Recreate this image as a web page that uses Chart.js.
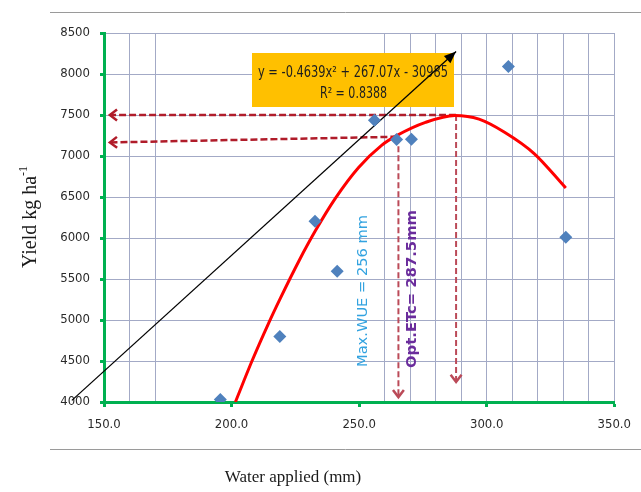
<!DOCTYPE html>
<html>
<head>
<meta charset="utf-8">
<script src="https://cdn.jsdelivr.net/npm/chart.js@4.4.1/dist/chart.umd.min.js"></script>
<style>
    html, body { margin: 0; padding: 0; background: #fff; }
</style>
</head>
<body>
<canvas id="yieldCanvas" width="641" height="492"></canvas>
<script>
// observed yields
const waterApplied = [195.6, 218.9, 232.7, 241.4, 256.0, 264.7, 270.5, 308.5, 331.0];
const yieldValues  = [4030, 4800, 6205, 5595, 7435, 7200, 7205, 8090, 6010];

// fitted curve
const curveWater = [201.5, 208.0, 214.5, 219.2, 226.4, 232.9, 240.6, 249.8, 258.8, 264.5, 276.0, 287.5, 297.0, 307.0, 318.6, 331.0];
const curveYield = [4000, 4500, 4960, 5270, 5720, 6090, 6480, 6860, 7130, 7245, 7410, 7495, 7450, 7290, 7030, 6610];

// black arrow
const trendWater = [137.4, 288.0];
const trendYield = [4020, 8275];

// red dashed arrows (start -> tip)
const optHWater = [288.0, 152.3];
const optHYield = [7500, 7500];
const wueHWater = [265.0, 152.3];
const wueHYield = [7235, 7165];
const wueVWater = [265.4, 265.4];
const wueVYield = [7230, 4060];
const optVWater = [288.0, 288.0];
const optVYield = [7500, 4245];

const xTickValues = [150, 200, 250, 300, 350];
const xTickLabels = ["150.0", "200.0", "250.0", "300.0", "350.0"];
const yTickValues = [4000, 4500, 5000, 5500, 6000, 6500, 7000, 7500, 8000, 8500];

const equationText = ["y = -0.4639x\u00B2 + 267.07x - 30985", "R\u00B2 = 0.8388"];
const wueText = "Max.WUE = 256 mm";
const optText = "Opt.ETc= 287.5mm";

function pairs(xs, ys) {
    let out = [];
    for (let i = 0; i < xs.length; i++) {
        out.push({ x: xs[i], y: ys[i] });
    }
    return out;
}

const green = "#00b050";
const gridGrey = "#a3aac6";

// draw text with a horizontal squeeze so it fills a given length
function fitText(ctx, text, x, y, len) {
    let w = ctx.measureText(text).width;
    ctx.save();
    ctx.translate(x, y);
    ctx.scale(len / w, 1);
    ctx.fillText(text, 0, 0);
    ctx.restore();
}

const arrowHeads = {
    id: "arrowHeads",
    afterDatasetsDraw(chart) {
        const ctx = chart.ctx;
        chart.data.datasets.forEach(function(ds, i) {
            if (!ds.arrowHead) return;
            const pts = chart.getDatasetMeta(i).data;
            const a = pts[pts.length - 2], b = pts[pts.length - 1];
            const ang = Math.atan2(b.y - a.y, b.x - a.x);
            ctx.save();
            if (ds.arrowHead == "filled") {
                ctx.fillStyle = ds.borderColor;
                ctx.beginPath();
                ctx.moveTo(b.x, b.y);
                ctx.lineTo(b.x - 13 * Math.cos(ang - 0.38), b.y - 13 * Math.sin(ang - 0.38));
                ctx.lineTo(b.x - 13 * Math.cos(ang + 0.38), b.y - 13 * Math.sin(ang + 0.38));
                ctx.closePath();
                ctx.fill();
            } else {
                ctx.strokeStyle = ds.borderColor;
                ctx.lineWidth = 2.5;
                ctx.beginPath();
                ctx.moveTo(b.x - 9 * Math.cos(ang - 0.65), b.y - 9 * Math.sin(ang - 0.65));
                ctx.lineTo(b.x, b.y);
                ctx.lineTo(b.x - 9 * Math.cos(ang + 0.65), b.y - 9 * Math.sin(ang + 0.65));
                ctx.stroke();
            }
            ctx.restore();
        });
    }
};

const decorations = {
    id: "decorations",
    beforeDatasetsDraw(chart) {
        const ctx = chart.ctx;
        const xs = chart.scales.x;
        ctx.save();
        // equation box
        ctx.fillStyle = "#ffc000";
        ctx.fillRect(252, 53, 202, 54);
        ctx.fillStyle = "#1e1e1e";
        ctx.font = "15px 'Liberation Sans Narrow', 'DejaVu Sans Condensed', sans-serif";
        ctx.textBaseline = "middle";
        fitText(ctx, equationText[0], 258, 73, 190);
        fitText(ctx, equationText[1], 320, 94, 67);

        // rotated labels
        ctx.font = "14px 'DejaVu Sans', sans-serif";
        ctx.save();
        ctx.translate(xs.getPixelForValue(251.8), 367);
        ctx.rotate(-Math.PI / 2);
        ctx.fillStyle = "#33a3e0";
        fitText(ctx, wueText, 0, 0, 152);
        ctx.restore();

        ctx.font = "bold 14px 'DejaVu Sans Condensed', sans-serif";
        ctx.save();
        ctx.translate(xs.getPixelForValue(270.8), 368);
        ctx.rotate(-Math.PI / 2);
        ctx.fillStyle = "#6a2c9c";
        fitText(ctx, optText, 0, 0, 158);
        ctx.restore();
        ctx.restore();
    },
    afterDraw(chart) {
        const ctx = chart.ctx;
        ctx.save();
        // outer frame lines
        ctx.strokeStyle = "#9a9a9a";
        ctx.lineWidth = 1;
        ctx.beginPath();
        ctx.moveTo(50, 12.5);
        ctx.lineTo(641, 12.5);
        ctx.moveTo(50, 449.5);
        ctx.lineTo(641, 449.5);
        ctx.stroke();

        // axis titles
        ctx.fillStyle = "#1a1a1a";
        ctx.font = "17px 'Liberation Serif', serif";
        ctx.textAlign = "center";
        ctx.textBaseline = "alphabetic";
        ctx.fillText("Water applied (mm)", 293, 482);

        ctx.translate(36, 217);
        ctx.rotate(-Math.PI / 2);
        ctx.font = "20px 'Liberation Serif', serif";
        ctx.textAlign = "left";
        let main = "Yield kg ha";
        let w = ctx.measureText(main).width;
        ctx.font = "12px 'Liberation Serif', serif";
        let w2 = ctx.measureText("-1").width;
        let start = -(w + w2) / 2;
        ctx.font = "20px 'Liberation Serif', serif";
        ctx.fillText(main, start, 0);
        ctx.font = "12px 'Liberation Serif', serif";
        ctx.fillText("-1", start + w, -9);
        ctx.restore();
    }
};

const yieldCanvas = document.getElementById("yieldCanvas");

const yieldChart = new Chart(yieldCanvas, {
    type: "scatter",
    data: {
        datasets: [{
            data: pairs(waterApplied, yieldValues),
            pointStyle: "rectRot",
            pointRadius: 6.5,
            backgroundColor: "#4f81bd",
            borderColor: "#4f81bd",
            borderWidth: 0
        }, {
            data: pairs(curveWater, curveYield),
            showLine: true,
            borderColor: "#ff0000",
            borderWidth: 3,
            pointRadius: 0,
            cubicInterpolationMode: "monotone"
        }, {
            data: pairs(trendWater, trendYield),
            showLine: true,
            borderColor: "#000000",
            borderWidth: 1.3,
            pointRadius: 0,
            clip: false,
            arrowHead: "filled"
        }, {
            data: pairs(optHWater, optHYield),
            showLine: true,
            borderColor: "#b01c2a",
            borderWidth: 2.5,
            borderDash: [7, 3],
            pointRadius: 0,
            arrowHead: "open"
        }, {
            data: pairs(wueHWater, wueHYield),
            showLine: true,
            borderColor: "#b01c2a",
            borderWidth: 2.5,
            borderDash: [7, 3],
            pointRadius: 0,
            arrowHead: "open"
        }, {
            data: pairs(wueVWater, wueVYield),
            showLine: true,
            borderColor: "#bb4a58",
            borderWidth: 2,
            borderDash: [6, 3],
            pointRadius: 0,
            arrowHead: "open"
        }, {
            data: pairs(optVWater, optVYield),
            showLine: true,
            borderColor: "#bb4a58",
            borderWidth: 2,
            borderDash: [6, 3],
            pointRadius: 0,
            arrowHead: "open"
        }]
    },
    options: {
        responsive: false,
        animation: false,
        layout: { padding: { left: 0, top: 33, right: 24, bottom: 0 } },
        scales: {
            x: {
                type: "linear",
                min: 150,
                max: 350,
                afterFit: function(scale) { scale.height = 90; },
                border: { color: green, width: 3 },
                grid: {
                    color: function(c) {
                        let v = c.tick ? c.tick.value : 0;
                        if (v >= 180 && v <= 250) return "rgba(0,0,0,0)";
                        return gridGrey;
                    },
                    tickColor: function(c) {
                        let v = c.tick ? c.tick.value : 0;
                        return xTickValues.indexOf(v) >= 0 ? green : "rgba(0,0,0,0)";
                    },
                    tickLength: 5,
                    tickWidth: 3
                },
                ticks: {
                    stepSize: 10,
                    autoSkip: false,
                    maxRotation: 0,
                    padding: 10,
                    color: "#2a2a2a",
                    font: { family: "'DejaVu Sans Condensed', sans-serif", size: 13 },
                    callback: function(value) {
                        let i = xTickValues.indexOf(value);
                        return i >= 0 ? xTickLabels[i] : "";
                    }
                }
            },
            y: {
                min: 4000,
                max: 8500,
                afterFit: function(scale) { scale.width = 104; },
                border: { color: green, width: 3 },
                grid: {
                    color: gridGrey,
                    tickColor: green,
                    tickLength: 4,
                    tickWidth: 3
                },
                ticks: {
                    stepSize: 500,
                    padding: 10,
                    color: "#2a2a2a",
                    font: { family: "'DejaVu Sans Condensed', sans-serif", size: 13 },
                    callback: function(value) {
                        return yTickValues.indexOf(value) >= 0 ? String(value) : "";
                    }
                }
            }
        },
        plugins: { legend: { display: false }, tooltip: { enabled: false } }
    },
    plugins: [decorations, arrowHeads]
});
</script>
</body>
</html>
